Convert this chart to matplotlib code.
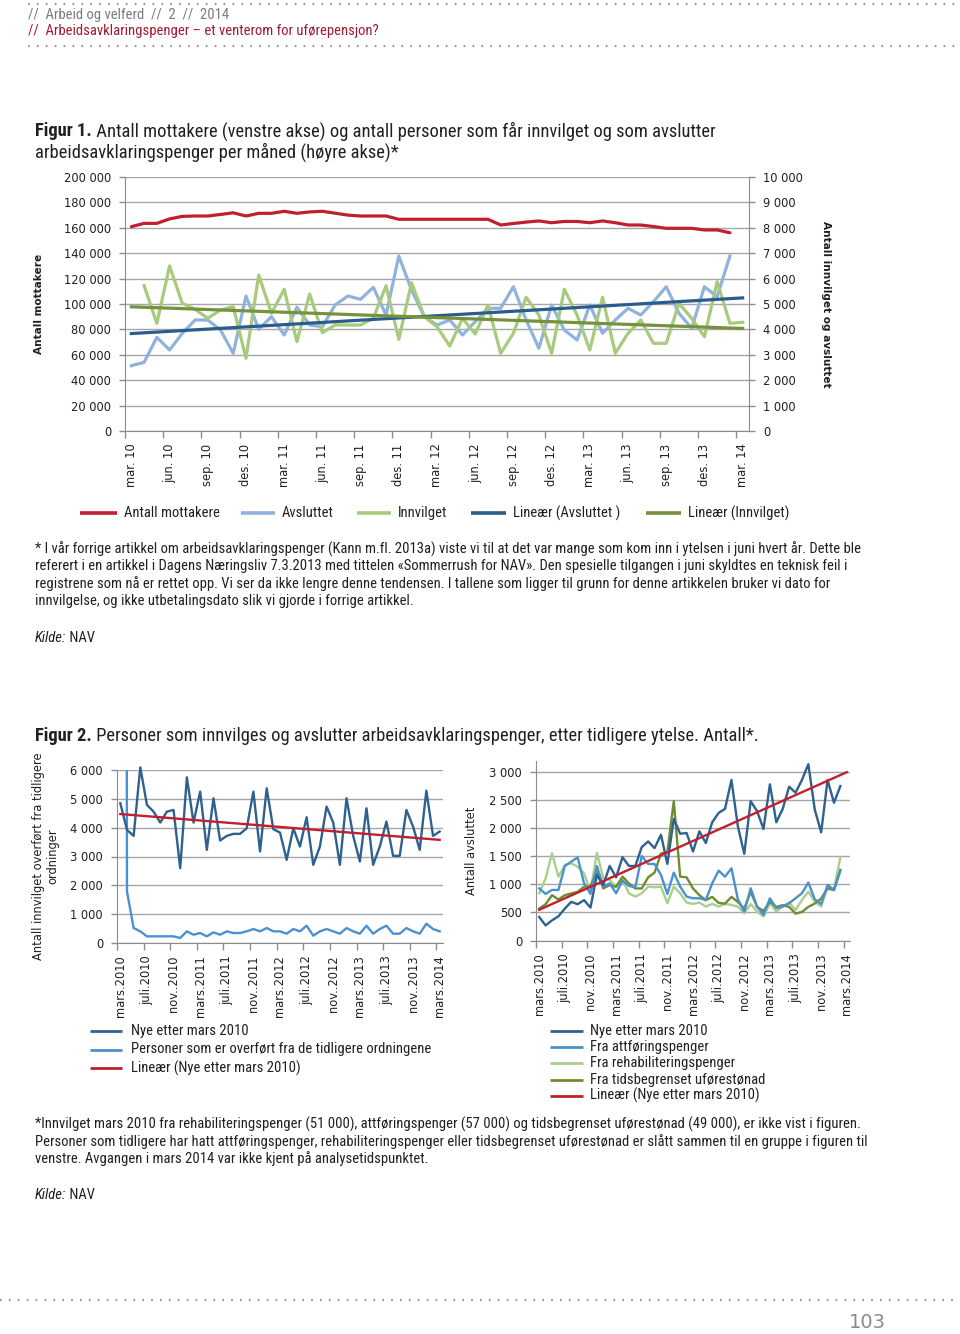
import numpy as np
import matplotlib
matplotlib.use('Agg')
import matplotlib.pyplot as plt
from matplotlib import font_manager
from matplotlib.lines import Line2D
from matplotlib.ticker import FuncFormatter, MultipleLocator, FixedLocator

# ---------------- data: figur 1 ----------------
labels1 = ['mar. 10', 'jun. 10', 'sep. 10', 'des. 10', 'mar. 11', 'jun. 11', 'sep. 11', 'des. 11',
           'mar. 12', 'jun. 12', 'sep. 12', 'des. 12', 'mar. 13', 'jun. 13', 'sep. 13', 'des. 13', 'mar. 14']

# mar.10 - feb.14 (venstre akse)
mottakere = [160900, 163500, 163500, 167000, 169000, 169300, 169300, 170500, 171800, 169300,
             171400, 171400, 173000, 171400, 172500, 173000, 171500, 170000, 169300, 169300,
             169300, 166700, 166700, 166700, 166700, 166700, 166700, 166700, 166700, 162200,
             163400, 164500, 165400, 164000, 165000, 165000, 164000, 165400, 164000, 162200,
             162200, 161000, 159600, 159600, 159600, 158300, 158300, 156100]

# mar.10 - feb.14 (hoyre akse)
avsluttet = [2571, 2705, 3689, 3189, 3846, 4370, 4370, 3976, 3059, 5315,
             4003, 4500, 3780, 4870, 4173, 4106, 4960, 5315, 5185, 5657,
             4567, 6890, 5551, 4500, 4173, 4370, 3780, 4303, 4830, 4830,
             5681, 4370, 3256, 4960, 3976, 3583, 4960, 3846, 4370, 4830,
             4567, 5091, 5681, 4633, 4043, 5681, 5288, 6890]

# apr.10 - mar.14 (hoyre akse)
innvilget = [5720, 4240, 6496, 5027, 4790, 4437, 4764, 4894, 2862, 6142,
             4633, 5578, 3517, 5394, 3871, 4173, 4173, 4173, 4437, 5720,
             3610, 5839, 4500, 4106, 3346, 4437, 3819, 4960, 3059, 3846,
             5264, 4567, 3059, 5578, 4567, 3189, 5264, 3059, 3846, 4370,
             3453, 3453, 5027, 4437, 3713, 5879, 4240, 4280]

# ---------------- data: figur 2 ----------------
labels2 = ['mars.2010', 'juli.2010', 'nov..2010', 'mars.2011', 'juli.2011', 'nov..2011', 'mars.2012',
           'juli.2012', 'nov..2012', 'mars.2013', 'juli.2013', 'nov..2013', 'mars.2014']

# innvilget, mars 2010 - mars 2014
nye_innv = [4846, 3923, 3715, 6092, 4788, 4557, 4177, 4557, 4615, 2596,
            5746, 4177, 5250, 3230, 5019, 3554, 3715, 3785, 3785, 3981,
            5250, 3173, 5365, 3946, 3831, 2885, 3981, 3346, 4361, 2712,
            3346, 4731, 4177, 2712, 5019, 3715, 2827, 4673, 2712, 3346,
            4211, 3023, 3023, 4615, 4038, 3230, 5285, 3715, 3865]
overfort = [157000, 1788, 519, 404, 231, 231, 231, 231, 231, 173,
            404, 288, 346, 231, 369, 288, 404, 346, 346, 404,
            485, 404, 519, 404, 404, 323, 485, 404, 600, 254,
            404, 485, 404, 323, 519, 404, 323, 600, 323, 485,
            600, 323, 323, 519, 404, 323, 669, 485, 404]

# avsluttet, mars 2010 - feb 2014
nye_avsl = [419, 269, 359, 431, 569, 689, 647, 719, 587, 1168,
            988, 1329, 1126, 1485, 1329, 1329, 1665, 1766, 1647, 1886,
            1365, 2168, 1904, 1916, 1587, 1946, 1737, 2108, 2275, 2347,
            2862, 2036, 1545, 2485, 2305, 1988, 2784, 2108, 2347, 2742,
            2635, 2862, 3144, 2335, 1928, 2862, 2455, 2754]
fra_attf = [931, 830, 901, 901, 1328, 1405, 1482, 1020, 830, 1328,
            960, 1020, 842, 1067, 972, 949, 1506, 1364, 1364, 1168,
            830, 1210, 960, 783, 753, 753, 723, 1020, 1245, 1138,
            1287, 735, 516, 931, 605, 457, 753, 575, 605, 664,
            753, 842, 1032, 735, 652, 990, 901, 1250]
fra_rehab = [842, 1109, 1553, 1138, 1346, 1375, 1316, 1198, 872, 1565,
             1109, 1079, 960, 1079, 842, 783, 842, 960, 949, 960,
             664, 960, 842, 676, 652, 676, 605, 652, 605, 652,
             634, 605, 486, 652, 516, 427, 664, 516, 605, 676,
             545, 723, 872, 694, 605, 960, 913, 1482]
fra_tub = [569, 647, 808, 730, 808, 838, 868, 958, 970, 1228,
           928, 988, 958, 1138, 1018, 928, 928, 1126, 1210, 1550,
           1580, 2485, 1138, 1126, 928, 808, 718, 778, 670, 659,
           778, 688, 569, 868, 599, 527, 688, 599, 629, 599,
           479, 509, 599, 659, 748, 928, 898, 1257]

# ---------------- styling ----------------
RED = '#c0202e'
LBLUE = '#8fb3dd'
LGREEN = '#a7ca7c'
DBLUE = '#2b5d8c'
OLIVE = '#76923c'
NAVY2 = '#2e618f'
MBLUE = '#4b91cf'
PGREEN = '#a9cf8c'
OLIVE2 = '#6f8c30'
GRID = '#a6a6a6'
SPINE = '#8c8c8c'
INK = '#231f20'

avail = {f.name for f in font_manager.fontManager.ttflist}
NARROW = next((f for f in ['Liberation Sans Narrow', 'Roboto Condensed', 'DejaVu Sans Condensed',
                           'Open Sans Condensed'] if f in avail), 'Liberation Sans')
BODY = [NARROW, 'DejaVu Sans']
TICK = ['DejaVu Sans']
FS_BODY = 10.5
FS_TITLE = 13.3

W, H = 960, 1334
fig = plt.figure(figsize=(W / 100, H / 100), dpi=100)
renderer = fig.canvas.get_renderer()


def box(x0, y0, x1, y1):
    return [x0 / W, 1 - y1 / H, (x1 - x0) / W, (y1 - y0) / H]


def txt(x, y, s, **kw):
    kw.setdefault('family', BODY)
    kw.setdefault('color', INK)
    kw.setdefault('va', 'center')
    return fig.text(x / W, 1 - y / H, s, **kw)


def hline(x0, x1, y, **kw):
    fig.add_artist(Line2D([x0 / W, x1 / W], [1 - y / H, 1 - y / H], transform=fig.transFigure, **kw))


def two_part(x, y, lead, rest, size, lead_kw):
    # first part in its own style, the rest continues right after it
    t = txt(x, y, lead, size=size, **lead_kw)
    x_end = t.get_window_extent(renderer).x1
    fig.text(x_end / W, 1 - y / H, rest, size=size, family=BODY, color=INK, va='center')


def thousands(v, p):
    return f'{v:,.0f}'.replace(',', ' ')


def style_axis(ax, ylim, step, labels, every, fs=8.3):
    ax.set_xlim(-0.5, 48.5)
    ax.set_ylim(*ylim)
    ax.yaxis.set_major_locator(MultipleLocator(step))
    ax.yaxis.set_major_formatter(FuncFormatter(thousands))
    ax.grid(axis='y', color=GRID, lw=1)
    ax.set_axisbelow(True)
    ax.set_xticks(range(0, 49, every))
    ax.set_xticklabels(labels, rotation=90, family=TICK, size=fs, color=INK)
    ax.xaxis.set_minor_locator(FixedLocator(np.arange(-0.5, 48, every)))
    ax.tick_params(axis='x', which='major', length=0, pad=9)
    ax.tick_params(axis='x', which='minor', length=5, color=SPINE, width=1)
    ax.tick_params(axis='y', length=4, color=SPINE, width=1, labelsize=fs, labelcolor=INK, pad=6)
    for lab in ax.get_yticklabels():
        lab.set_family(TICK)
    for s in ['top', 'right']:
        ax.spines[s].set_visible(False)
    for s in ['left', 'bottom']:
        ax.spines[s].set_color(SPINE)


def legend_item(x, y, color, label, lw, length, gap=7):
    hline(x, x + length, y, color=color, lw=lw, solid_capstyle='butt')
    txt(x + length + gap, y, label, size=FS_BODY)


# ---------------- header ----------------
hline(28, 960, 4, color='#9a9a9a', lw=1.6, ls=(0, (0.8, 3.2)))
txt(28, 15, '//  Arbeid og velferd  //  2  //  2014', size=10.5, color='#7a7a7a')
txt(28, 31, '//  Arbeidsavklaringspenger – et venterom for uførepensjon?', size=10.5, color='#a31a30')
hline(28, 960, 46, color='#9a9a9a', lw=1.6, ls=(0, (0.8, 3.2)))

# ---------------- figur 1 ----------------
two_part(35, 131, 'Figur 1.', ' Antall mottakere (venstre akse) og antall personer som får innvilget og som avslutter',
         FS_TITLE, {'weight': 'bold'})
txt(35, 152, 'arbeidsavklaringspenger per måned (høyre akse)*', size=FS_TITLE)

ax1 = fig.add_axes(box(125, 177, 749, 431))
style_axis(ax1, (0, 200000), 20000, labels1, 3, fs=8.3)
ax1.plot(np.arange(len(mottakere)), mottakere, color=RED, lw=2.3, solid_capstyle='round')
ax1.set_ylabel('Antall mottakere', family=TICK, weight='bold', size=7.6, color=INK, labelpad=14)

ax2 = ax1.twinx()
ax2.set_ylim(0, 10000)
ax2.yaxis.set_major_locator(MultipleLocator(1000))
ax2.yaxis.set_major_formatter(FuncFormatter(thousands))
ax2.tick_params(axis='y', length=4, color=SPINE, width=1, labelsize=8.3, labelcolor=INK, pad=6)
for lab in ax2.get_yticklabels():
    lab.set_family(TICK)
for s in ['top', 'left', 'bottom']:
    ax2.spines[s].set_visible(False)
ax2.spines['right'].set_color(SPINE)
xa = np.arange(len(avsluttet))
xi = np.arange(1, len(innvilget) + 1)
xall = np.arange(49)
ax2.plot(xa, avsluttet, color=LBLUE, lw=2.3)
ax2.plot(xi, innvilget, color=LGREEN, lw=2.3)
ax2.plot(xall, np.polyval(np.polyfit(xa, avsluttet, 1), xall), color=DBLUE, lw=2.3)
ax2.plot(xall, np.polyval(np.polyfit(xi, innvilget, 1), xall), color=OLIVE, lw=2.3)
ax2.set_ylabel('Antall innvilget og avsluttet', family=TICK, weight='bold', size=7.6, color=INK,
               rotation=-90, labelpad=20)

legend_item(80, 513, RED, 'Antall mottakere', 2.6, 37)
legend_item(241, 513, LBLUE, 'Avsluttet', 2.6, 34)
legend_item(357, 513, LGREEN, 'Innvilget', 2.6, 34)
legend_item(471, 513, DBLUE, 'Lineær (Avsluttet )', 2.6, 35)
legend_item(646, 513, OLIVE, 'Lineær (Innvilget)', 2.6, 35)

note1 = ['* I vår forrige artikkel om arbeidsavklaringspenger (Kann m.fl. 2013a) viste vi til at det var mange som kom inn i ytelsen i juni hvert år. Dette ble',
         'referert i en artikkel i Dagens Næringsliv 7.3.2013 med tittelen «Sommerrush for NAV». Den spesielle tilgangen i juni skyldtes en teknisk feil i',
         'registrene som nå er rettet opp. Vi ser da ikke lengre denne tendensen. I tallene som ligger til grunn for denne artikkelen bruker vi dato for',
         'innvilgelse, og ikke utbetalingsdato slik vi gjorde i forrige artikkel.']
for k, line in enumerate(note1):
    txt(35, 549 + 17.4 * k, line, size=FS_BODY)
two_part(35, 638, 'Kilde:', ' NAV', FS_BODY, {'style': 'italic'})

# ---------------- figur 2 ----------------
two_part(35, 736, 'Figur 2.', ' Personer som innvilges og avslutter arbeidsavklaringspenger, etter tidligere ytelse. Antall*.',
         FS_TITLE, {'weight': 'bold'})

ax3 = fig.add_axes(box(117, 770, 443, 943))
style_axis(ax3, (0, 6000), 1000, labels2, 4)
x49 = np.arange(len(nye_innv))
ax3.plot(x49, overfort, color=MBLUE, lw=1.7)
ax3.plot(x49, nye_innv, color=NAVY2, lw=1.7, clip_on=False)
ax3.plot(x49, np.polyval(np.polyfit(x49, nye_innv, 1), x49), color=RED, lw=1.7)
ax3.set_ylabel('Antall innvilget overført fra tidligere\nordninger', family=TICK, size=8.3,
               color=INK, labelpad=8, linespacing=1.1)

ax4 = fig.add_axes(box(536, 761, 850, 940.5))
style_axis(ax4, (0, 3200), 500, labels2, 4)
ax4.set_yticks(np.arange(0, 3001, 500))
ax4.yaxis.set_major_formatter(FuncFormatter(thousands))
x48 = np.arange(len(nye_avsl))
ax4.plot(x48, fra_rehab, color=PGREEN, lw=1.7)
ax4.plot(x48, fra_tub, color=OLIVE2, lw=1.7)
ax4.plot(x48, fra_attf, color=MBLUE, lw=1.7)
ax4.plot(x48, nye_avsl, color=NAVY2, lw=1.7)
ax4.plot(np.arange(49), np.polyval(np.polyfit(x48, nye_avsl, 1), np.arange(49)), color=RED, lw=1.7)
ax4.set_ylabel('Antall avsluttet', family=TICK, size=8.3, color=INK, labelpad=8)

for k, (c, lab) in enumerate([(NAVY2, 'Nye etter mars 2010'),
                              (MBLUE, 'Personer som er overført fra de tidligere ordningene'),
                              (RED, 'Lineær (Nye etter mars 2010)')]):
    legend_item(90, 1031 + 18.5 * k, c, lab, 2.0, 32, gap=9)
for k, (c, lab) in enumerate([(NAVY2, 'Nye etter mars 2010'),
                              (MBLUE, 'Fra attføringspenger'),
                              (PGREEN, 'Fra rehabiliteringspenger'),
                              (OLIVE2, 'Fra tidsbegrenset uførestønad'),
                              (RED, 'Lineær (Nye etter mars 2010)')]):
    legend_item(550, 1031 + 16.2 * k, c, lab, 2.0, 33, gap=7)

note2 = ['*Innvilget mars 2010 fra rehabiliteringspenger (51 000), attføringspenger (57 000) og tidsbegrenset uførestønad (49 000), er ikke vist i figuren.',
         'Personer som tidligere har hatt attføringspenger, rehabiliteringspenger eller tidsbegrenset uførestønad er slått sammen til en gruppe i figuren til',
         'venstre. Avgangen i mars 2014 var ikke kjent på analysetidspunktet.']
for k, line in enumerate(note2):
    txt(35, 1124 + 17.4 * k, line, size=FS_BODY)
two_part(35, 1195, 'Kilde:', ' NAV', FS_BODY, {'style': 'italic'})

# ---------------- footer ----------------
hline(0, 960, 1300, color='#9a9a9a', lw=1.6, ls=(0, (0.8, 3.2)))
txt(867, 1322, '103', size=14, color='#8a8a8a', family=['DejaVu Sans'], ha='center')

fig.savefig('out.png', dpi=100)
